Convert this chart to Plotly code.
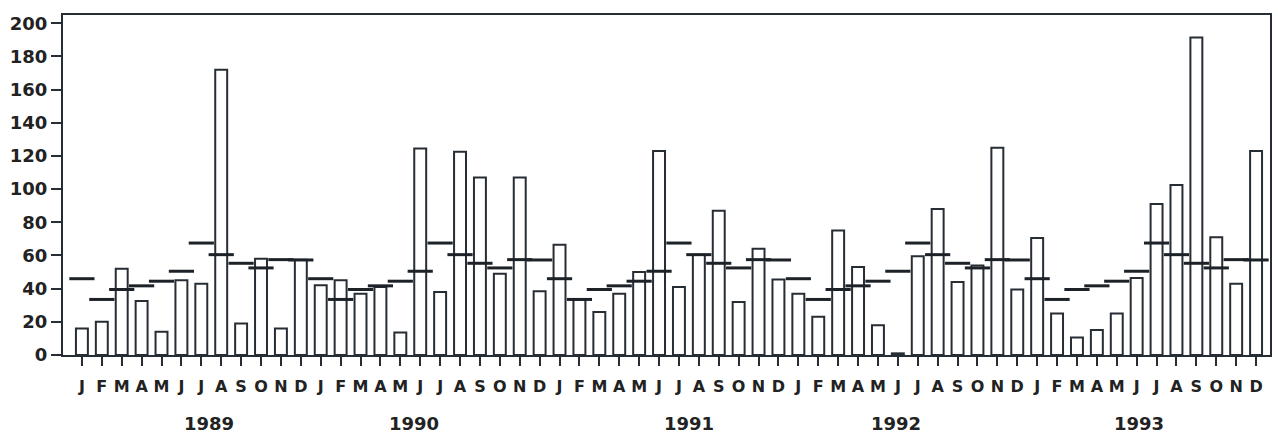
import plotly.graph_objects as go

# ---- data ----
month_letters = ["J", "F", "M", "A", "M", "J", "J", "A", "S", "O", "N", "D"]
years = ["1989", "1990", "1991", "1992", "1993"]

rain_1989 = [16, 20, 52, 32.5, 14, 45, 43, 172, 19, 58, 16, 57.5]
rain_1990 = [42, 45, 37, 41, 13.5, 124.5, 38, 122.5, 107, 49, 107, 38.5]
rain_1991 = [66.5, 33.5, 26, 37, 50, 123, 41, 60.5, 87, 32, 64, 45.5]
rain_1992 = [37, 23, 75, 53, 18, 1, 59.5, 88, 44, 54, 125, 39.5]
rain_1993 = [70.5, 25, 10.5, 15, 25, 46.5, 91, 102.5, 191.5, 71, 43, 123]

# long-term monthly mean (same climatology marked each year)
monthly_mean = [46, 33.5, 39.5, 41.7, 44.5, 50.5, 67.5, 60.5, 55.3, 52.5, 57.5, 57.3]

# year label positions (month index along the axis)
year_label_pos = [6.4, 16.7, 30.5, 40.9, 53.1]

y_ticks = [0, 20, 40, 60, 80, 100, 120, 140, 160, 180, 200]

# ---- build series ----
rain = rain_1989 + rain_1990 + rain_1991 + rain_1992 + rain_1993
means = monthly_mean * len(years)
idx = list(range(len(rain)))
tick_text = month_letters * len(years)

ink = "#262d35"
font_family = "DejaVu Sans"

fig = go.Figure()
fig.add_trace(go.Bar(
    x=idx, y=rain, width=0.6,
    marker=dict(color="white", line=dict(color=ink, width=2)),
    hoverinfo="y",
))
fig.add_trace(go.Scatter(
    x=idx, y=means, mode="markers",
    marker=dict(symbol="line-ew", size=18, line=dict(color="#1c2228", width=3)),
    hoverinfo="y",
))

for yr, pos in zip(years, year_label_pos):
    fig.add_annotation(
        x=pos, y=-0.2, xref="x", yref="paper", text=yr, showarrow=False,
        font=dict(family=font_family, size=18, color="#222", weight="bold"),
        xanchor="center", yanchor="middle",
    )

fig.update_layout(
    width=1278, height=445,
    margin=dict(l=63, r=6, t=15, b=90),
    paper_bgcolor="white", plot_bgcolor="white",
    showlegend=False, bargap=0.4,
)
fig.update_xaxes(
    range=[-0.95, 59.7],
    tickmode="array", tickvals=idx, ticktext=tick_text,
    ticks="outside", ticklen=9, tickwidth=1.5, tickcolor=ink,
    tickfont=dict(family=font_family, size=16, color="#222", weight="bold"),
    ticklabelstandoff=7,
    showline=True, linecolor=ink, linewidth=2, mirror=True,
    showgrid=False, zeroline=False,
)
fig.update_yaxes(
    range=[0, 205],
    tickmode="array", tickvals=y_ticks,
    ticks="outside", ticklen=10, tickwidth=1.5, tickcolor=ink,
    tickfont=dict(family=font_family, size=18, color="#222", weight="bold"),
    showline=True, linecolor=ink, linewidth=2, mirror=True,
    showgrid=False, zeroline=False,
)

fig.write_html("out.html")
